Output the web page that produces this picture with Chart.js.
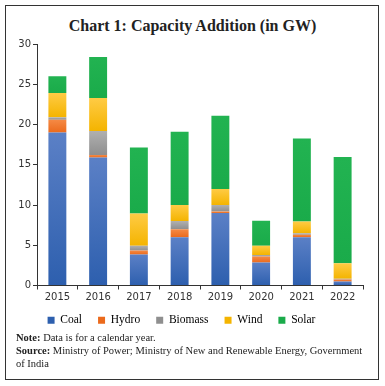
<!DOCTYPE html>
<html>
<head>
<meta charset="utf-8">
<script src="https://cdn.jsdelivr.net/npm/chart.js@4.4.1/dist/chart.umd.min.js"></script>
<style>
  body { margin: 0; background: #fff; }
  .frame {
    position: absolute; left: 5px; top: 5px; width: 372px; height: 373px;
    border: 1px solid #333;
  }
  .title {
    position: absolute; left: 0; top: 17px; width: 385px; text-align: center;
    font-family: "Liberation Serif", serif; font-weight: bold; font-size: 16px; color: #222;
  }
  .chart-box { position: absolute; left: 0; top: 30px; width: 385px; height: 317px; }
  .notes {
    position: absolute; left: 16px; top: 331px; width: 348px;
    font-family: "Liberation Serif", serif; font-size: 10.5px; line-height: 13px; color: #222;
  }
</style>
</head>
<body>
<div class="frame"></div>
<div class="title">Chart 1: Capacity Addition (in GW)</div>
<div class="chart-box"><canvas id="chart" width="385" height="317"></canvas></div>
<div class="notes">
  <div><b>Note:</b> Data is for a calendar year.</div>
  <div><b>Source:</b> Ministry of Power; Ministry of New and Renewable Energy, Government of India</div>
</div>
<script>
// Data (GW)
const years = ["2015", "2016", "2017", "2018", "2019", "2020", "2021", "2022"];
const coal = [19.0, 15.9, 3.85, 6.0, 9.0, 2.85, 6.0, 0.5];
const hydro = [1.6, 0.3, 0.5, 1.0, 0.2, 0.75, 0.3, 0.25];
const biomass = [0.3, 3.0, 0.6, 1.0, 0.8, 0.2, 0.2, 0.1];
const wind = [3.0, 4.1, 4.0, 2.0, 2.0, 1.15, 1.45, 1.9];
const solar = [2.1, 5.1, 8.2, 9.1, 9.1, 3.1, 10.3, 13.2];
const yTicks = [0, 5, 10, 15, 20, 25, 30];

const seriesList = [coal, hydro, biomass, wind, solar];

// light (top) / dark (bottom) shade for each series
const shades = [
  ["#5b80c6", "#2d5fae"],
  ["#f58a45", "#eb6a1c"],
  ["#b0b0b0", "#8f8f8f"],
  ["#ffcb45", "#f4b400"],
  ["#22b351", "#1aab4a"]
];

// each stacked segment gets its own vertical gradient
function segmentFill(ctx) {
  const i = ctx.datasetIndex;
  const flat = shades[i][1];
  if (ctx.type !== "data") return flat;
  const chart = ctx.chart;
  const y = chart.scales.y;
  if (!chart.chartArea || !y) return flat;
  let base = 0;
  for (let k = 0; k < i; k++) base += seriesList[k][ctx.dataIndex];
  const top = base + seriesList[i][ctx.dataIndex];
  const y0 = y.getPixelForValue(base);
  const y1 = y.getPixelForValue(top);
  if (!isFinite(y0) || !isFinite(y1) || y0 === y1) return flat;
  const g = chart.ctx.createLinearGradient(0, y1, 0, y0);
  g.addColorStop(0, shades[i][0]);
  g.addColorStop(1, shades[i][1]);
  return g;
}

const names = ["Coal", "Hydro", "Biomass", "Wind", "Solar"];

// legend padding also sets the top offset, so nudge the legend up when drawn
const LEGEND_LIFT = 11;
const legendLift = {
  id: "legendLift",
  beforeDraw(chart) {
    const lg = chart.legend;
    if (!lg || lg._lifted) return;
    const draw = lg.draw;
    lg.draw = function (area) {
      const c = this.ctx;
      c.save();
      c.translate(0, -LEGEND_LIFT);
      draw.call(this, area);
      c.restore();
    };
    lg._lifted = true;
  }
};

new Chart(document.getElementById("chart"), {
  type: "bar",
  data: {
    labels: years,
    datasets: seriesList.map((vals, i) => ({
      label: names[i],
      data: vals,
      backgroundColor: segmentFill,
      borderWidth: 0,
      barPercentage: 0.44,
      categoryPercentage: 1
    }))
  },
  plugins: [legendLift],
  options: {
    responsive: false,
    animation: false,
    layout: { padding: { top: 14, right: 22, left: 0, bottom: 0 } },
    plugins: {
      legend: {
        position: "bottom",
        labels: {
          boxWidth: 7,
          boxHeight: 7,
          padding: 16,
          color: "#222",
          font: { family: "Liberation Serif", size: 11.5 },
          generateLabels: (chart) => names.map((n, i) => ({
            text: n,
            fillStyle: shades[i][1],
            strokeStyle: shades[i][1],
            lineWidth: 0,
            datasetIndex: i
          }))
        }
      },
      tooltip: { enabled: false }
    },
    scales: {
      x: {
        stacked: true,
        offset: true,
        grid: { offset: true, drawOnChartArea: false, tickLength: 4, color: "#333" },
        border: { color: "#333" },
        ticks: { color: "#333", font: { family: "DejaVu Sans", size: 10 }, padding: 2 },
        afterFit: (scale) => { scale.height = 24; }
      },
      y: {
        stacked: true,
        min: 0,
        max: 30,
        afterBuildTicks: (scale) => { scale.ticks = yTicks.map(v => ({ value: v })); },
        grid: { drawOnChartArea: false, tickLength: 4, color: "#333" },
        border: { color: "#333" },
        ticks: { color: "#333", font: { family: "DejaVu Sans", size: 10 }, padding: 2 },
        afterFit: (scale) => { scale.width = 37; }
      }
    }
  }
});
</script>
</body>
</html>
